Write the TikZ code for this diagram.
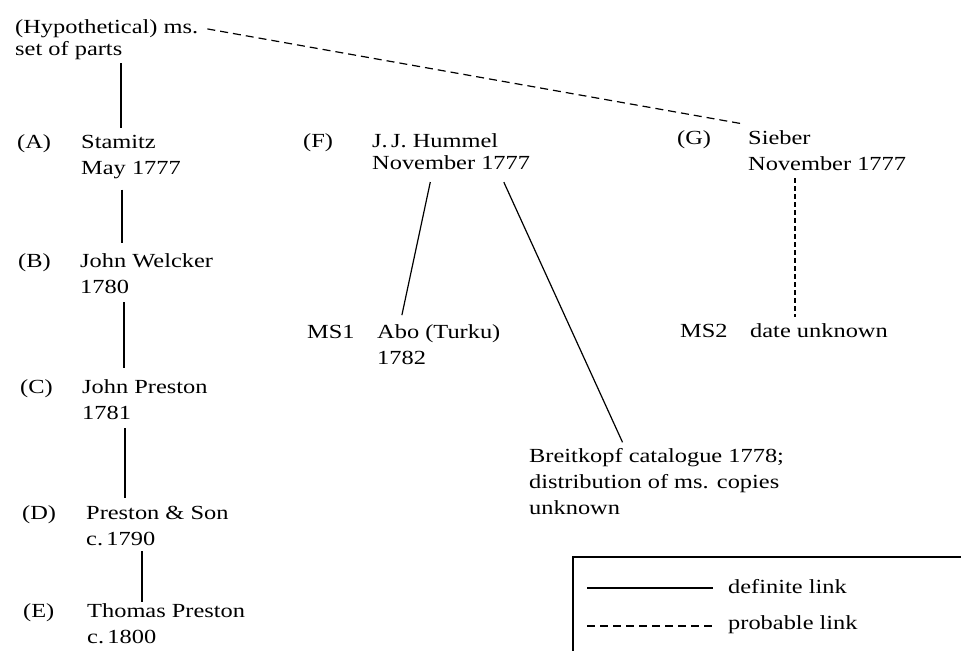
\documentclass[tikz,border=0pt]{standalone}
\usepackage{fontspec}
\setmainfont{Liberation Serif}[FakeStretch=1.22]
\usetikzlibrary{calc}

\tikzset{
  every node/.style={anchor=base west, inner sep=0pt, align=left,
    font=\fontsize{20}{26}\selectfont},
  link/.style={line width=1.2pt},
  prob/.style={line width=1.2pt, dash pattern=on 8pt off 5pt},
}

\begin{document}
\begin{tikzpicture}[x=1pt, y=-1pt]
\useasboundingbox (0,0) rectangle (961,651);

% multi-line nodes sit on the baseline of their last line
\node (hyp) at (15,55) {(Hypothetical) ms.\\[-4pt]set of parts};

\node (A) at (17,148) {(A)};
\node (a) at (81,174) {Stamitz\\May 1777};
\node (B) at (18,267) {(B)};
\node (b) at (80,293) {John Welcker\\1780};
\node (C) at (20,393) {(C)};
\node (c) at (82,419) {John Preston\\1781};
\node (D) at (22,519) {(D)};
\node (d) at (86,545) {Preston \& Son\\c.\,1790};
\node (E) at (23,617) {(E)};
\node (e) at (87,643) {Thomas Preston\\c.\,1800};

\node (F) at (303,147) {(F)};
\node (hum) at (372,169) {J.\,J. Hummel\\[-4pt]November 1777};
\node (M1) at (307,338) {MS1};
\node (abo) at (377,364) {Abo (Turku)\\1782};
\node (bre) at (529,514) {Breitkopf catalogue 1778;\\distribution of ms. copies\\unknown};

\node (G) at (677,144) {(G)};
\node (sie) at (748,170) {Sieber\\November 1777};
\node (M2) at (680,337) {MS2};
\node (dat) at (750,337) {date unknown};

% definite links
\draw[link, shorten <=4pt, shorten >=7pt] (hyp.south -| 121,0) -- (a.north -| 121,0);
\draw[link, shorten <=11pt, shorten >=10pt] (a.south -| 122,0) -- (b.north -| 122,0);
\draw[link, shorten <=9pt, shorten >=11pt] (b.south -| 124,0) -- (c.north -| 124,0);
\draw[link, shorten <=9pt, shorten >=8pt] (c.south -| 125,0) -- (d.north -| 125,0);
\draw[link, shorten <=6pt, shorten >=1pt] (d.south -| 142,0) -- (e.north -| 142,0);
\draw[link, shorten <=13pt, shorten >=9pt] (hum.south -| 433,0) -- (abo.north -| 400,0);
\draw[link, shorten <=14pt, shorten >=6pt] (hum.south -| 498,0) -- (bre.north -| 625,0);

% probable links
\draw[prob] ($(hyp.north east)+(9,10)$) -- ($(sie.north west)+(-5,-6)$);
\draw[prob, dash pattern=on 5pt off 3pt, shorten <=8pt, shorten >=6pt]
  (sie.south -| 795,0) -- (dat.north -| 795,0);

% key
\draw[line width=1.4pt] (961,557) -- (573,557) -- (573,651);
\node (def) at (728,593) {definite link};
\node (pro) at (728,629) {probable link};
\draw[link] (587,588) -- (713,588);
\draw[prob] (587,626) -- (713,626);
\end{tikzpicture}
\end{document}
